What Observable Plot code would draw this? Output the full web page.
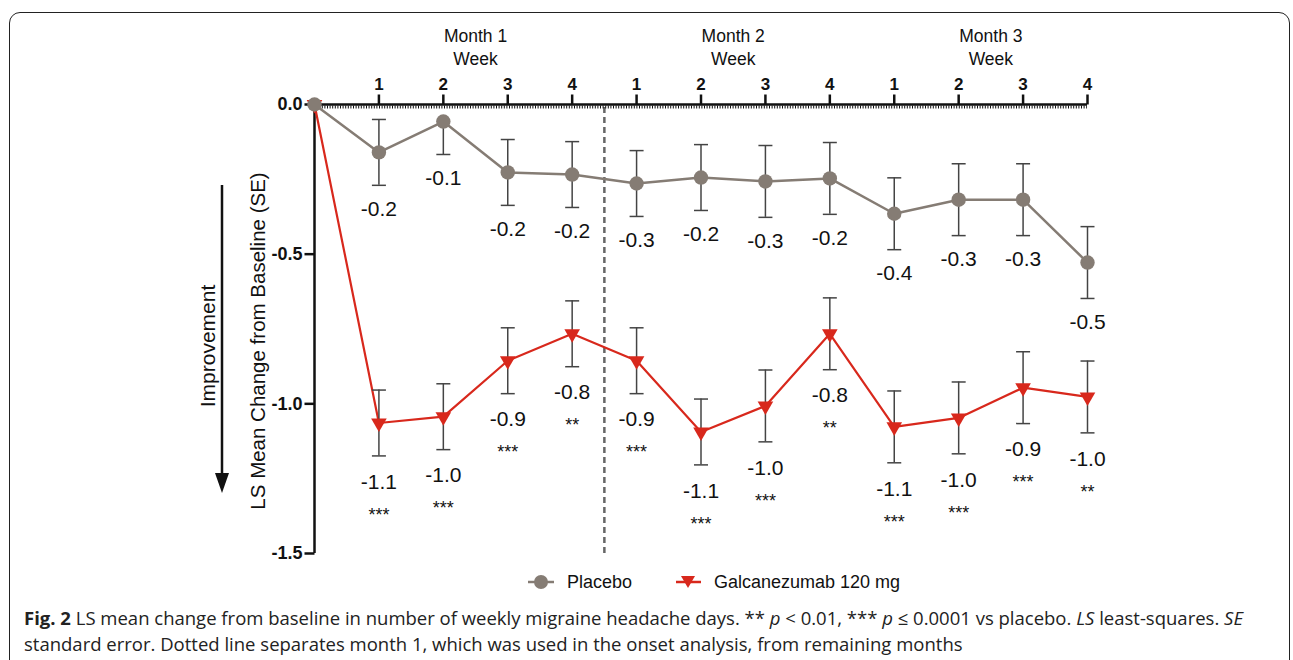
<!DOCTYPE html>
<html><head><meta charset="utf-8">
<script src="https://cdn.jsdelivr.net/npm/d3@7"></script>
<script src="https://cdn.jsdelivr.net/npm/@observablehq/plot@0.6"></script>
<style>
html,body{margin:0;padding:0;background:#fff;width:1293px;height:660px;overflow:hidden;position:relative;}
#frame{position:absolute;left:9px;top:12px;width:1281px;height:720px;border:1.6px solid #222;border-radius:11px;box-sizing:border-box;}
#chart{position:absolute;left:0;top:0;}
#chart svg text{font-family:"Liberation Sans",Arial,sans-serif;}
#arrow{position:absolute;left:0;top:0;}
.leg{position:absolute;top:571px;height:22px;font-family:"Liberation Sans",Arial,sans-serif;font-size:18px;color:#111;display:flex;align-items:center;}
#caption{position:absolute;left:24px;top:605px;font-family:"Open Sans",sans-serif;font-size:18.5px;line-height:26px;color:#222;white-space:nowrap;}
</style></head>
<body>
<div id="frame"></div>
<div id="chart"></div>
<svg id="arrow" width="300" height="560"><line x1="222" y1="185" x2="222" y2="476" stroke="#111" stroke-width="2.5"/><polygon points="215,473 229,473 222,493" fill="#111"/></svg>
<div class="leg" style="left:527px;"><svg width="28" height="20"><line x1="1" y1="10" x2="27" y2="10" stroke="#857c74" stroke-width="2.5"/><circle cx="14" cy="10" r="7" fill="#857c74"/></svg><span style="margin-left:12px">Placebo</span></div>
<div class="leg" style="left:675px;"><svg width="27" height="20"><line x1="1" y1="10" x2="26" y2="10" stroke="#d8281c" stroke-width="2.5"/><polygon points="6,4 20,4 13,16" fill="#d8281c"/></svg><span style="margin-left:12px">Galcanezumab 120 mg</span></div>
<div id="caption"><b>Fig. 2</b> LS mean change from baseline in number of weekly migraine headache days. ** <i>p</i> &lt; 0.01, *** <i>p</i> ≤ 0.0001 vs placebo. <i>LS</i> least-squares. <i>SE</i><br>standard error. Dotted line separates month 1, which was used in the onset analysis, from remaining months</div>
<script>
const weeks = [1,2,3,4,5,6,7,8,9,10,11,12];
const weekLabels = ["1","2","3","4","1","2","3","4","1","2","3","4"];
const months = ["Month 1","Month 2","Month 3"];
const monthCenters = [2.5, 6.5, 10.5];
const yTicks = [0, -0.5, -1.0, -1.5];
const baseline = {week: 0, mean: 0};
const separatorWeek = 4.5;

const placeboMean = [-0.160,-0.057,-0.227,-0.234,-0.264,-0.244,-0.257,-0.247,-0.365,-0.318,-0.318,-0.528];
const placeboSE   = [0.11,0.11,0.11,0.11,0.11,0.11,0.12,0.12,0.12,0.12,0.12,0.12];
const placeboLabels = ["-0.2","-0.1","-0.2","-0.2","-0.3","-0.2","-0.3","-0.2","-0.4","-0.3","-0.3","-0.5"];

const galcMean = [-1.064,-1.043,-0.856,-0.766,-0.856,-1.094,-1.007,-0.766,-1.077,-1.047,-0.946,-0.977];
const galcSE   = [0.11,0.11,0.11,0.11,0.11,0.11,0.12,0.12,0.12,0.12,0.12,0.12];
const galcLabels = ["-1.1","-1.0","-0.9","-0.8","-0.9","-1.1","-1.0","-0.8","-1.1","-1.0","-0.9","-1.0"];
const galcStars  = ["***","***","***","**","***","***","***","**","***","***","***","**"];

const placeboColor = "#857c74", galcColor = "#d8281c", errColor = "#444";

const pPts = weeks.map((w,i)=>({week:w, mean:placeboMean[i], se:placeboSE[i], label:placeboLabels[i]}));
const gPts = weeks.map((w,i)=>({week:w, mean:galcMean[i], se:galcSE[i], label:galcLabels[i], stars:galcStars[i]}));
const pLine = [baseline, ...pPts];
const gLine = [baseline, ...gPts];

const allPts = [...pPts, ...gPts];
const lowerBars = allPts.map(d=>({week:d.week, y1:d.mean, y2:d.mean-d.se}));
const upperBars = allPts.filter(d=>d.mean+d.se < 0).map(d=>({week:d.week, y1:d.mean, y2:d.mean+d.se}));
const caps = [...lowerBars, ...upperBars].map(d=>({week:d.week, y:d.y2}));

const capSymbol = {draw(ctx){ ctx.moveTo(-7,0); ctx.lineTo(7,0); }};
const xTickSymbol = {draw(ctx){ ctx.moveTo(0,0); ctx.lineTo(0,-10); }};
const yTickSymbol = {draw(ctx){ ctx.moveTo(0,0); ctx.lineTo(-10,0); }};
const monthData = months.map((m,i)=>({x:monthCenters[i], text:m+"\nWeek"}));

const chart = Plot.plot({
  width: 1293, height: 565,
  marginLeft: 314, marginRight: 206, marginTop: 104, marginBottom: 12,
  x: {domain: [0, 12], axis: null},
  y: {domain: [-1.5, 0], axis: null},
  style: {fontFamily: "'Liberation Sans', Arial, sans-serif", color: "#111", background: "transparent", overflow: "visible"},
  marks: [
    // top x axis
    Plot.dot(weeks, {x: d => d, y: () => 0, symbol: xTickSymbol, stroke: "#111", strokeWidth: 2.5, fill: "none"}),
    Plot.text(weeks, {x: d => d, text: d => weekLabels[d-1], frameAnchor: "top", lineAnchor: "middle", dy: -20, fontWeight: "bold", fontSize: 17}),
    // left y axis
    Plot.dot(yTicks, {x: () => 0, y: d => d, symbol: yTickSymbol, stroke: "#111", strokeWidth: 2.5, fill: "none"}),
    Plot.text(yTicks, {y: d => d, text: d => d.toFixed(1), frameAnchor: "left", dx: -12, textAnchor: "end", fontWeight: "bold", fontSize: 18}),
    Plot.text(monthData, {x: "x", text: "text", frameAnchor: "top", dy: -58, lineAnchor: "middle", fontSize: 17.5, lineHeight: 1.28}),
    Plot.text(["LS Mean Change from Baseline (SE)"], {frameAnchor: "left", textAnchor: "middle", lineAnchor: "middle", dx: -56, dy: 12, rotate: -90, fontSize: 20.5}),
    Plot.text(["Improvement"], {frameAnchor: "left", textAnchor: "middle", lineAnchor: "middle", dx: -106, dy: 17, rotate: -90, fontSize: 21}),
    Plot.ruleX([separatorWeek], {y1: -1.5, y2: 0, stroke: "#666", strokeWidth: 2.5, strokeDasharray: "6,4"}),
    Plot.ruleY([0], {x1: 0, x2: 12, dy: 2.5, stroke: "#111", strokeWidth: 3, strokeDasharray: "1,1.6"}),
    Plot.ruleX([0], {y1: -1.5, y2: 0, stroke: "#111", strokeWidth: 2.5}),
    Plot.ruleY([0], {x1: 0, x2: 12, stroke: "#111", strokeWidth: 2.5}),
    // series
    Plot.line(pLine, {x: "week", y: "mean", stroke: placeboColor, strokeWidth: 2.5}),
    Plot.line(gLine, {x: "week", y: "mean", stroke: galcColor, strokeWidth: 2.2}),
    Plot.ruleX(lowerBars, {x: "week", y1: "y1", y2: "y2", stroke: errColor, strokeWidth: 1.5}),
    Plot.ruleX(upperBars, {x: "week", y1: "y1", y2: "y2", stroke: errColor, strokeWidth: 1.5}),
    Plot.dot(caps, {x: "week", y: "y", symbol: capSymbol, stroke: errColor, strokeWidth: 1.5, fill: "none"}),
    Plot.dot(gLine, {x: "week", y: "mean", symbol: "triangle", rotate: 180, r: 5.8, fill: galcColor, stroke: "none"}),
    Plot.dot(pLine, {x: "week", y: "mean", r: 7.2, fill: placeboColor, stroke: "none"}),
    Plot.text(pPts, {x: "week", y: d => d.mean - d.se, text: "label", dy: 24, fontSize: 21}),
    Plot.text(gPts, {x: "week", y: d => d.mean - d.se, text: "label", dy: 26, fontSize: 21}),
    Plot.text(gPts, {x: "week", y: d => d.mean - d.se, text: "stars", dy: 59, fontSize: 18})
  ]
});
document.getElementById("chart").appendChild(chart);
</script>
</body></html>
